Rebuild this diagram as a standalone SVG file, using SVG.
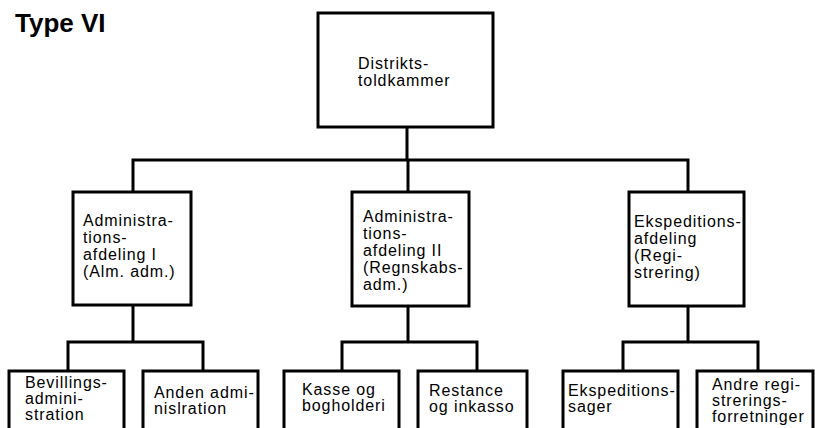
<svg xmlns="http://www.w3.org/2000/svg" width="815" height="428" viewBox="0 0 815 428">
<style>
.box{fill:#fff;stroke:#000;stroke-width:3}
.ln{fill:none;stroke:#000;stroke-width:3;stroke-linecap:square}
.t{font-family:"Liberation Sans",Arial,sans-serif;font-size:16px;letter-spacing:0.9px;fill:#000}
.title{font-family:"Liberation Sans",Arial,sans-serif;font-size:26px;font-weight:bold;fill:#000}
</style>
<rect width="815" height="428" fill="#fff"/>
<text class="title" x="15" y="32">Type VI</text>
<g id="connectors">
<path class="ln" d="M407,127 V160 M133,160 H688 M133,160 V192 M408,160 V192 M688,160 V192"/>
<path class="ln" d="M133,305 V342 M68,342 H203 M68,342 V371 M203,342 V371"/>
<path class="ln" d="M408,306 V342 M342,342 H477 M342,342 V371 M477,342 V371"/>
<path class="ln" d="M688,306 V342 M623,342 H758 M623,342 V371 M758,342 V371"/>
</g>
<g id="n_distrikt">
<rect class="box" x="318" y="13" width="175" height="114"/>
<text class="t" x="358" y="69">Distrikts-</text>
<text class="t" x="358" y="86">toldkammer</text>
</g>
<g id="n_adm1">
<rect class="box" x="73" y="192" width="118" height="113"/>
<text class="t" x="83" y="226">Administra-</text>
<text class="t" x="83" y="243">tions-</text>
<text class="t" x="83" y="260">afdeling I</text>
<text class="t" x="83" y="277">(Alm. adm.)</text>
</g>
<g id="n_adm2">
<rect class="box" x="352" y="192" width="117" height="114"/>
<text class="t" x="363" y="222">Administra-</text>
<text class="t" x="363" y="239">tions-</text>
<text class="t" x="363" y="256">afdeling II</text>
<text class="t" x="363" y="273">(Regnskabs-</text>
<text class="t" x="363" y="290">adm.)</text>
</g>
<g id="n_eksp">
<rect class="box" x="629" y="192" width="115" height="114"/>
<text class="t" x="634" y="227" letter-spacing="0.6">Ekspeditions-</text>
<text class="t" x="634" y="244">afdeling</text>
<text class="t" x="634" y="261">(Regi-</text>
<text class="t" x="634" y="278">strering)</text>
</g>
<g id="n_bev">
<rect class="box" x="9" y="371" width="115" height="70"/>
<text class="t" x="25" y="388">Bevillings-</text>
<text class="t" x="25" y="404">admini-</text>
<text class="t" x="25" y="420">stration</text>
</g>
<g id="n_anden">
<rect class="box" x="143" y="371" width="115" height="70"/>
<text class="t" x="154" y="398">Anden admi-</text>
<text class="t" x="154" y="414">nislration</text>
</g>
<g id="n_kasse">
<rect class="box" x="284" y="371" width="115" height="70"/>
<text class="t" x="302" y="395">Kasse og</text>
<text class="t" x="302" y="411">bogholderi</text>
</g>
<g id="n_restance">
<rect class="box" x="418" y="371" width="109" height="70"/>
<text class="t" x="429" y="396">Restance</text>
<text class="t" x="429" y="412">og inkasso</text>
</g>
<g id="n_ekspsager">
<rect class="box" x="563" y="371" width="115" height="70"/>
<text class="t" x="568" y="396" letter-spacing="0.6">Ekspeditions-</text>
<text class="t" x="568" y="412">sager</text>
</g>
<g id="n_andre">
<rect class="box" x="697" y="371" width="116" height="70"/>
<text class="t" x="712" y="390">Andre regi-</text>
<text class="t" x="712" y="406">strerings-</text>
<text class="t" x="712" y="422" letter-spacing="0.5">forretninger</text>
</g>
</svg>
